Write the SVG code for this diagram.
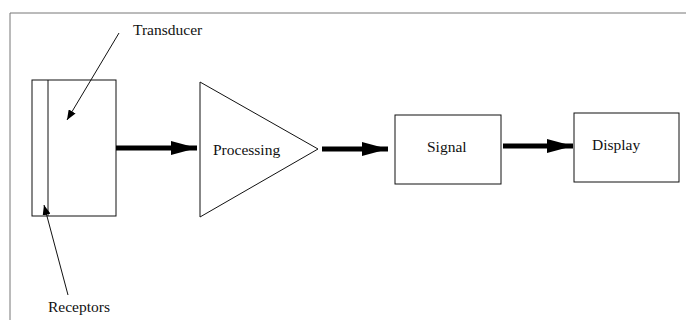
<svg xmlns="http://www.w3.org/2000/svg" width="686" height="320" viewBox="0 0 686 320">
<defs>
<style>
.t{font-family:"Liberation Serif","Times New Roman",serif;font-size:15.5px;fill:#111}
.n{fill:#fff;stroke:#111;stroke-width:1}
.thick{stroke:#000;stroke-width:5;fill:none}
.thin{stroke:#111;stroke-width:1;fill:none}
</style>
<marker id="big" markerWidth="26" markerHeight="14" refX="26" refY="7" orient="auto" markerUnits="userSpaceOnUse">
<path d="M0,0 L26,7 L0,14 Z" fill="#000"/>
</marker>
<marker id="small" markerWidth="10" markerHeight="8" refX="10" refY="4" orient="auto" markerUnits="userSpaceOnUse">
<path d="M0,0 L10,4 L0,8 Z" fill="#000"/>
</marker>
</defs>
<rect width="686" height="320" fill="#fff"/>
<path d="M10,320 V13 H686" fill="none" stroke="#777" stroke-width="1"/>
<g id="transducer">
<rect class="n" x="32" y="80" width="84" height="136"/>
<line class="thin" x1="48" y1="80" x2="48" y2="216"/>
<text class="t" x="133" y="35">Transducer</text>
</g>
<g id="receptors">
<text class="t" x="48" y="312">Receptors</text>
</g>
<g id="processing">
<polygon class="n" points="200,82 318,149 200,217"/>
<text class="t" x="213" y="155">Processing</text>
</g>
<g id="signal">
<rect class="n" x="395" y="115" width="106" height="69"/>
<text class="t" x="427" y="152">Signal</text>
</g>
<g id="display">
<rect class="n" x="574" y="113" width="105" height="69"/>
<text class="t" x="592" y="150">Display</text>
</g>
<g id="connectors">
<line class="thin" x1="119" y1="33" x2="67" y2="120" marker-end="url(#small)"/>
<line class="thin" x1="68" y1="295" x2="44" y2="205" marker-end="url(#small)"/>
<line class="thick" x1="116" y1="148" x2="197" y2="148" marker-end="url(#big)"/>
<line class="thick" x1="322" y1="149" x2="388" y2="149" marker-end="url(#big)"/>
<line class="thick" x1="503" y1="146" x2="573" y2="146" marker-end="url(#big)"/>
</g>
</svg>
